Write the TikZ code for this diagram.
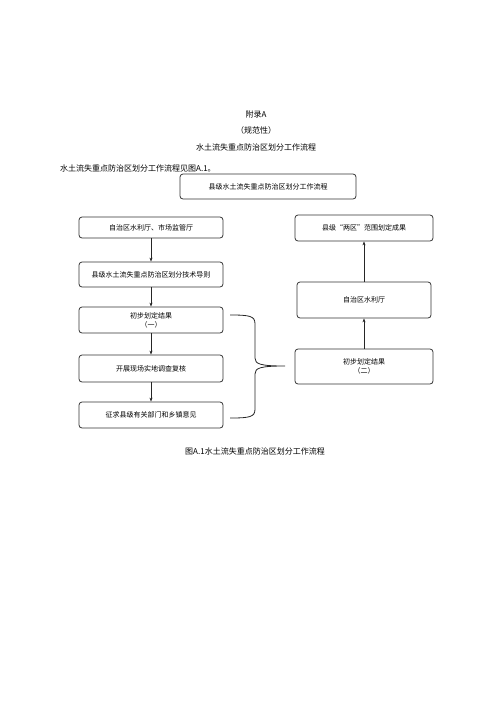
\documentclass[tikz,border=0pt]{standalone}
\usepackage{fontspec}
\setmainfont{Noto Sans CJK SC}
\usetikzlibrary{arrows.meta}
\begin{document}
\begin{tikzpicture}[x=1pt,y=-1pt,
  box/.style={draw=black!80,line width=0.8pt,rounded corners=3pt,align=center,inner sep=0pt,font=\fontsize{7}{9}\selectfont},
  arr/.style={-{Stealth[length=4pt,width=3pt]},line width=0.7pt,draw=black!85},
  ttl/.style={font=\fontsize{8}{10}\selectfont,inner sep=0pt}]
\useasboundingbox (0,0) rectangle (500,707);
\node[ttl] (t1) at (256,114) {附录A};
\node[ttl] (t2) at (256,130) {（规范性）};
\node[ttl] (t3) at (256,147) {水土流失重点防治区划分工作流程};
\node[ttl,anchor=west] (t4) at (60,168) {水土流失重点防治区划分工作流程见图A.1。};
\node[box,minimum width=176pt,minimum height=25pt] (top) at (268,186.5) {县级水土流失重点防治区划分工作流程};
\node[box,minimum width=144pt,minimum height=21pt] (l1) at (151,227.5) {自治区水利厅、市场监管厅};
\node[box,minimum width=144pt,minimum height=25pt] (l2) at (151,274.5) {县级水土流失重点防治区划分技术导则};
\node[box,minimum width=144pt,minimum height=26pt] (l3) at (151,320) {初步划定结果\\（一）};
\node[box,minimum width=144pt,minimum height=27pt] (l4) at (151,368.5) {开展现场实地调查复核};
\node[box,minimum width=144pt,minimum height=26pt] (l5) at (151,415) {征求县级有关部门和乡镇意见};
\node[box,minimum width=138pt,minimum height=26pt] (r1) at (364,228) {县级“两区”范围划定成果};
\node[box,minimum width=134pt,minimum height=36pt] (r2) at (364,300) {自治区水利厅};
\node[box,minimum width=138pt,minimum height=35pt] (r3) at (364,366.5) {初步划定结果\\（二）};
\draw[arr] (l1) -- (l2);
\draw[arr] (l2) -- (l3);
\draw[arr] (l3) -- (l4);
\draw[arr] (l4) -- (l5);
\draw[arr] (r3) -- (r2);
\draw[arr] (r2) -- (r1);
\coordinate (bt) at (230,315);
\coordinate (bb) at (230,418);
\coordinate (tip) at (285,366);
\draw[line width=0.8pt,draw=black!85] (bt) .. controls (250,315) and (255,316) .. (255,324) -- (255,358)
  .. controls (255,364) and (260,366) .. (tip)
  (bb) .. controls (250,418) and (255,417) .. (255,409) -- (255,374)
  .. controls (255,368) and (260,366) .. (tip);
\node[ttl] (cap) at (255,451) {图A.1水土流失重点防治区划分工作流程};
\end{tikzpicture}
\end{document}
